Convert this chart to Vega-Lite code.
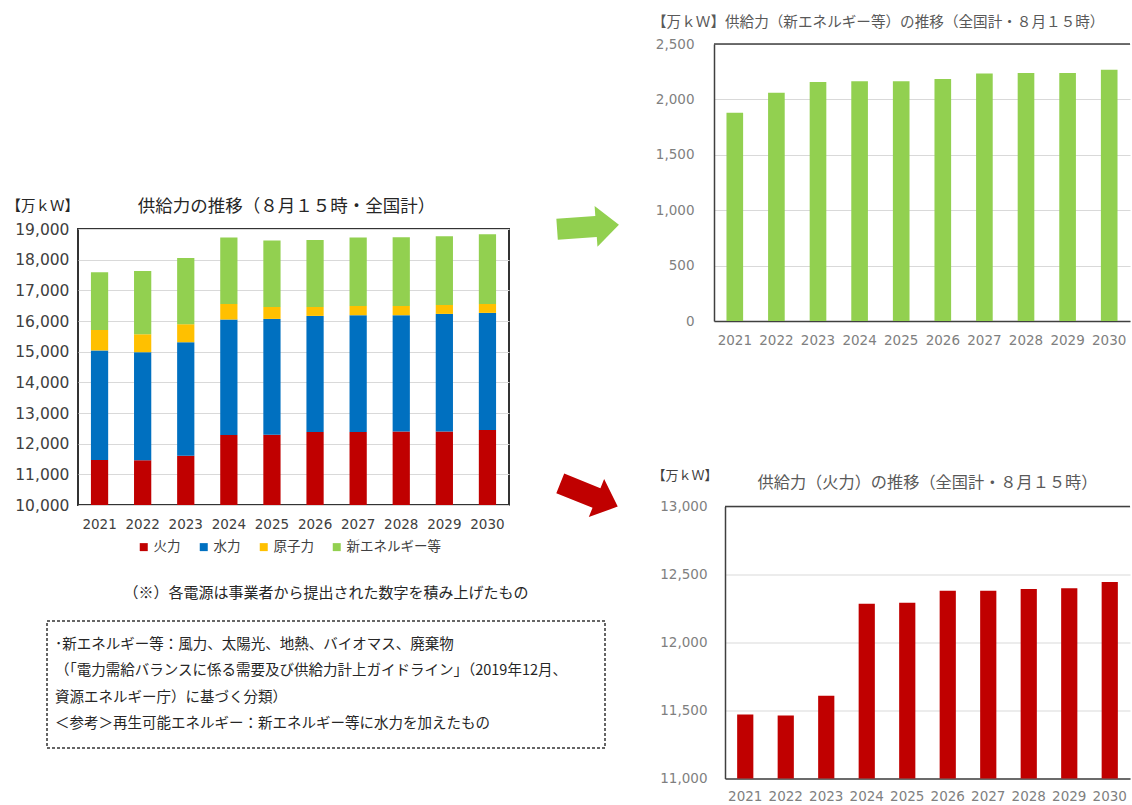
{
  "$schema": "https://vega.github.io/schema/vega-lite/v6.json",
  "background": "white",
  "padding": {"left": 4, "top": 15, "right": 0, "bottom": 0},
  "datasets": {
    "supply": [
      {"year": "2021", "source": "火力", "k": 1, "value": 11470},
      {"year": "2021", "source": "水力", "k": 2, "value": 3570},
      {"year": "2021", "source": "原子力", "k": 3, "value": 670},
      {"year": "2021", "source": "新エネルギー等", "k": 4, "value": 1880},
      {"year": "2022", "source": "火力", "k": 1, "value": 11463},
      {"year": "2022", "source": "水力", "k": 2, "value": 3520},
      {"year": "2022", "source": "原子力", "k": 3, "value": 585},
      {"year": "2022", "source": "新エネルギー等", "k": 4, "value": 2060},
      {"year": "2023", "source": "火力", "k": 1, "value": 11608},
      {"year": "2023", "source": "水力", "k": 2, "value": 3700},
      {"year": "2023", "source": "原子力", "k": 3, "value": 587},
      {"year": "2023", "source": "新エネルギー等", "k": 4, "value": 2157},
      {"year": "2024", "source": "火力", "k": 1, "value": 12285},
      {"year": "2024", "source": "水力", "k": 2, "value": 3764},
      {"year": "2024", "source": "原子力", "k": 3, "value": 508},
      {"year": "2024", "source": "新エネルギー等", "k": 4, "value": 2163},
      {"year": "2025", "source": "火力", "k": 1, "value": 12293},
      {"year": "2025", "source": "水力", "k": 2, "value": 3775},
      {"year": "2025", "source": "原子力", "k": 3, "value": 391},
      {"year": "2025", "source": "新エネルギー等", "k": 4, "value": 2163},
      {"year": "2026", "source": "火力", "k": 1, "value": 12381},
      {"year": "2026", "source": "水力", "k": 2, "value": 3785},
      {"year": "2026", "source": "原子力", "k": 3, "value": 293},
      {"year": "2026", "source": "新エネルギー等", "k": 4, "value": 2184},
      {"year": "2027", "source": "火力", "k": 1, "value": 12381},
      {"year": "2027", "source": "水力", "k": 2, "value": 3808},
      {"year": "2027", "source": "原子力", "k": 3, "value": 303},
      {"year": "2027", "source": "新エネルギー等", "k": 4, "value": 2233},
      {"year": "2028", "source": "火力", "k": 1, "value": 12393},
      {"year": "2028", "source": "水力", "k": 2, "value": 3796},
      {"year": "2028", "source": "原子力", "k": 3, "value": 303},
      {"year": "2028", "source": "新エネルギー等", "k": 4, "value": 2238},
      {"year": "2029", "source": "火力", "k": 1, "value": 12398},
      {"year": "2029", "source": "水力", "k": 2, "value": 3833},
      {"year": "2029", "source": "原子力", "k": 3, "value": 293},
      {"year": "2029", "source": "新エネルギー等", "k": 4, "value": 2238},
      {"year": "2030", "source": "火力", "k": 1, "value": 12444},
      {"year": "2030", "source": "水力", "k": 2, "value": 3820},
      {"year": "2030", "source": "原子力", "k": 3, "value": 293},
      {"year": "2030", "source": "新エネルギー等", "k": 4, "value": 2268}
    ]
  },
  "config": {
    "font": "Noto Sans CJK JP",
    "axis": {"labelFont": "DejaVu Sans", "ticks": false},
    "title": {"fontWeight": "normal", "font": "Noto Sans CJK JP", "frame": "group"}
  },
  "resolve": {"scale": {"color": "independent", "x": "independent", "y": "independent"}},
  "spacing": 31,
  "hconcat": [
    {
      "spacing": 30,
      "resolve": {"scale": {"color": "independent", "x": "independent", "y": "independent"}},
      "vconcat": [
        {
          "width": 1, "height": 121.5,
          "data": {"values": []},
          "mark": "point",
          "view": {"stroke": null}
        },
        {
          "spacing": 0,
          "resolve": {"scale": {"color": "independent", "x": "independent", "y": "independent"}},
          "hconcat": [
            {
              "width": 1, "height": 1,
              "data": {"values": []},
              "mark": "point",
              "view": {"stroke": null}
            },
            {
              "width": 431, "height": 276,
              "view": {"stroke": "#333333", "strokeWidth": 2},
              "title": {"text": "供給力の推移（８月１５時・全国計）", "anchor": "middle", "dx": -7, "offset": -17, "fontSize": 17.5, "color": "#262626"},
              "resolve": {"scale": {"x": "independent", "y": "independent"}},
              "layer": [
                {
                  "data": {"name": "supply"},
                  "mark": {"type": "bar", "clip": true},
                  "encoding": {
                    "x": {
                      "field": "year", "type": "ordinal",
                      "scale": {"paddingInner": 0.6, "paddingOuter": 0.3},
                      "axis": {"title": null, "labelAngle": 0, "domain": false, "labelPadding": 12, "labelFontSize": 13.5, "labelColor": "#404040"}
                    },
                    "y": {
                      "field": "value", "type": "quantitative", "stack": "zero",
                      "scale": {"domain": [10000, 19000], "nice": false, "zero": false},
                      "axis": {
                        "values": [10000, 11000, 12000, 13000, 14000, 15000, 16000, 17000, 18000, 19000],
                        "format": ",d", "domain": false, "grid": true, "gridColor": "#d9d9d9",
                        "labelPadding": 9, "labelFontSize": 15.5, "labelColor": "#404040",
                        "title": "【万ｋＷ】", "titleAngle": 0, "titleAlign": "left", "titleBaseline": "middle",
                        "titleX": -72, "titleY": -23, "titleFont": "Noto Sans CJK JP", "titleFontSize": 14.5,
                        "titleFontWeight": "normal", "titleColor": "#262626"
                      }
                    },
                    "color": {
                      "field": "source", "type": "nominal",
                      "scale": {"domain": ["火力", "水力", "原子力", "新エネルギー等"], "range": ["#C00000", "#0070C0", "#FFC000", "#92D050"]},
                      "legend": {
                        "title": null, "orient": "none", "direction": "horizontal", "legendX": 59, "legendY": 311,
                        "symbolType": "square", "symbolSize": 64, "symbolStrokeWidth": 0, "labelOffset": 3,
                        "columnPadding": 16, "labelFont": "Noto Sans CJK JP", "labelFontSize": 13.5, "labelColor": "#404040"
                      }
                    },
                    "order": {"field": "k", "type": "quantitative"}
                  }
                },
                {
                  "data": {"values": [
                    {"arrow": "新エネルギー等", "px": 510, "py": -2},
                    {"arrow": "火力", "px": 511, "py": 266}
                  ]},
                  "layer": [
                    {
                      "transform": [{"filter": "datum.arrow === '新エネルギー等'"}],
                      "mark": {
                        "type": "point", "filled": true, "opacity": 1, "strokeWidth": 0, "size": 3844, "clip": false,
                        "color": "#92D050", "angle": -4,
                        "shape": "M-1,-0.34L0.26,-0.34L0.26,-0.66L1,0L0.26,0.66L0.26,0.34L-1,0.34Z"
                      },
                      "encoding": {
                        "x": {"field": "px", "type": "quantitative", "scale": {"domain": [0, 431], "nice": false, "zero": false}, "axis": null},
                        "y": {"field": "py", "type": "quantitative", "scale": {"domain": [0, 276], "nice": false, "zero": false, "reverse": true}, "axis": null}
                      }
                    },
                    {
                      "transform": [{"filter": "datum.arrow === '火力'"}],
                      "mark": {
                        "type": "point", "filled": true, "opacity": 1, "strokeWidth": 0, "size": 3844, "clip": false,
                        "color": "#C00000", "angle": 22,
                        "shape": "M-1,-0.34L0.26,-0.34L0.26,-0.66L1,0L0.26,0.66L0.26,0.34L-1,0.34Z"
                      },
                      "encoding": {
                        "x": {"field": "px", "type": "quantitative", "axis": null},
                        "y": {"field": "py", "type": "quantitative", "axis": null}
                      }
                    }
                  ]
                }
              ]
            }
          ]
        },
        {
          "spacing": 0,
          "hconcat": [
            {
              "width": 42, "height": 1,
              "data": {"values": []},
              "mark": "point",
              "view": {"stroke": null}
            },
            {
              "width": 558, "height": 127,
              "view": {"stroke": "#333333", "strokeWidth": 1.5, "strokeDash": [3, 2]},
              "title": {"text": "（※）各電源は事業者から提出された数字を積み上げたもの", "anchor": "middle", "offset": 20, "fontSize": 15, "color": "#262626"},
              "data": {"values": [
                {"n": 1, "line": "･新エネルギー等：風力、太陽光、地熱、バイオマス、廃棄物"},
                {"n": 2, "line": "（「電力需給バランスに係る需要及び供給力計上ガイドライン」（2019年12月、"},
                {"n": 3, "line": "資源エネルギー庁）に基づく分類）"},
                {"n": 4, "line": "＜参考＞再生可能エネルギー：新エネルギー等に水力を加えたもの"}
              ]},
              "mark": {"type": "text", "align": "left", "baseline": "middle", "fontSize": 14.5, "color": "#262626", "font": "Noto Sans CJK JP"},
              "encoding": {
                "x": {"value": 8},
                "y": {"field": "n", "type": "ordinal", "scale": {"type": "point", "padding": 0.9}, "axis": null},
                "text": {"field": "line"}
              }
            }
          ]
        }
      ]
    },
    {
      "spacing": 122.5,
      "resolve": {"scale": {"color": "independent", "x": "independent", "y": "independent"}},
      "vconcat": [
        {
          "spacing": 0,
          "resolve": {"scale": {"x": "independent", "y": "independent"}},
          "hconcat": [
            {
              "width": 1, "height": 1,
              "data": {"values": []},
              "mark": "point",
              "view": {"stroke": null}
            },
            {
              "width": 416, "height": 277,
              "view": {"stroke": null},
              "title": {"text": "【万ｋＷ】供給力（新エネルギー等）の推移（全国計・８月１５時）", "anchor": "start", "dx": -62, "offset": 7, "fontSize": 14.6, "color": "#595959"},
              "layer": [
                {
                  "data": {"name": "supply"},
                  "transform": [{"filter": "datum.source === '新エネルギー等'"}],
                  "mark": {"type": "bar", "color": "#92D050"},
                  "encoding": {
                    "x": {
                      "field": "year", "type": "ordinal",
                      "scale": {"paddingInner": 0.6, "paddingOuter": 0.3},
                      "axis": {"title": null, "labelAngle": 0, "domain": true, "domainColor": "#404040", "domainWidth": 1.5, "labelPadding": 12, "labelFontSize": 13.5, "labelColor": "#7f7f7f"}
                    },
                    "y": {
                      "field": "value", "type": "quantitative",
                      "scale": {"domain": [0, 2500], "nice": false},
                      "axis": {
                        "values": [0, 500, 1000, 1500, 2000, 2500], "format": ",d",
                        "domain": true, "domainColor": "#404040", "domainWidth": 1.5,
                        "grid": true, "gridColor": "#d9d9d9", "labelPadding": 20, "labelFontSize": 13.5,
                        "labelColor": "#7f7f7f", "title": null
                      }
                    }
                  }
                },
                {
                  "data": {"values": [{}]},
                  "mark": {"type": "rule", "color": "#404040", "strokeWidth": 1.5},
                  "encoding": {"y": {"datum": 2500}}
                }
              ]
            }
          ]
        },
        {
          "spacing": 0,
          "resolve": {"scale": {"x": "independent", "y": "independent"}},
          "hconcat": [
            {
              "width": 1, "height": 1,
              "data": {"values": []},
              "mark": "point",
              "view": {"stroke": null}
            },
            {
              "width": 405, "height": 272,
              "view": {"stroke": null},
              "title": {"text": "供給力（火力）の推移（全国計・８月１５時）", "anchor": "middle", "offset": -21.3, "fontSize": 16.2, "color": "#595959"},
              "layer": [
                {
                  "data": {"name": "supply"},
                  "transform": [{"filter": "datum.source === '火力'"}],
                  "mark": {"type": "bar", "color": "#C00000", "clip": true},
                  "encoding": {
                    "x": {
                      "field": "year", "type": "ordinal",
                      "scale": {"paddingInner": 0.6, "paddingOuter": 0.3},
                      "axis": {"title": null, "labelAngle": 0, "domain": true, "domainColor": "#404040", "domainWidth": 1.5, "labelPadding": 11, "labelFontSize": 13.5, "labelColor": "#7f7f7f"}
                    },
                    "y": {
                      "field": "value", "type": "quantitative",
                      "scale": {"domain": [11000, 13000], "nice": false, "zero": false},
                      "axis": {
                        "values": [11000, 11500, 12000, 12500, 13000], "format": ",d",
                        "domain": true, "domainColor": "#404040", "domainWidth": 1.5,
                        "grid": true, "gridColor": "#d9d9d9", "labelPadding": 18, "labelFontSize": 13.5,
                        "labelColor": "#7f7f7f",
                        "title": "【万ｋＷ】", "titleAngle": 0, "titleAlign": "left", "titleBaseline": "middle",
                        "titleX": -73, "titleY": -31, "titleFont": "Noto Sans CJK JP", "titleFontSize": 13,
                        "titleFontWeight": "normal", "titleColor": "#404040"
                      }
                    }
                  }
                },
                {
                  "data": {"values": [{}]},
                  "mark": {"type": "rule", "color": "#404040", "strokeWidth": 1.5},
                  "encoding": {"y": {"datum": 13000}}
                }
              ]
            }
          ]
        }
      ]
    }
  ]
}
